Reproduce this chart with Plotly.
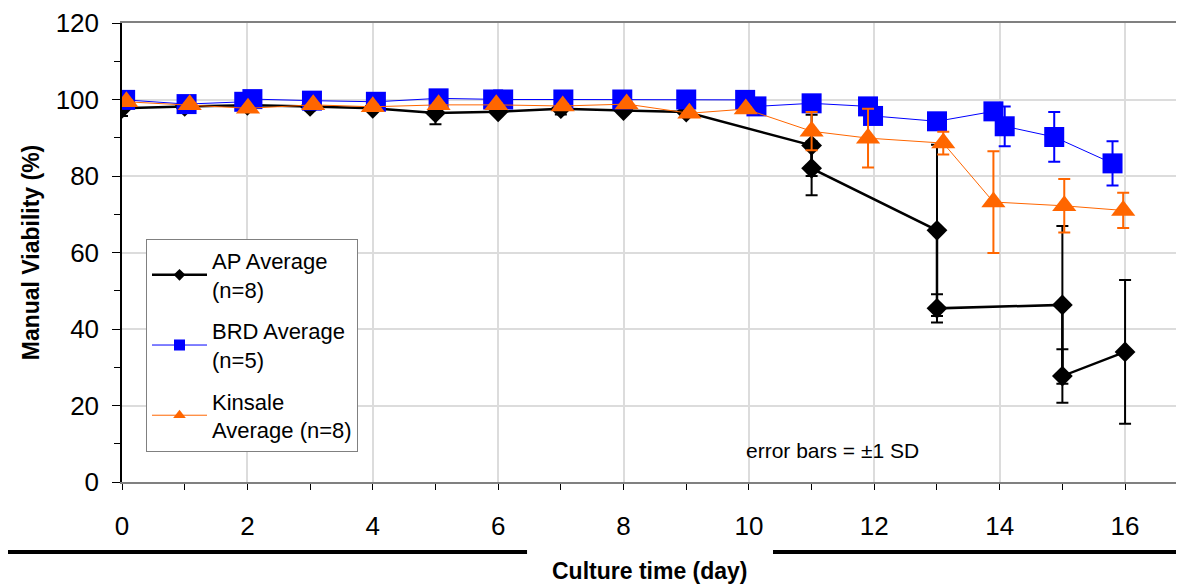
import plotly.graph_objects as go

# ---- data ----
ap_x = [0, 1, 2, 3, 4, 5, 6, 7, 8, 9, 11, 11, 13, 13, 15, 15, 16]
ap_y = [97.7, 98.2, 98.5, 98.2, 97.7, 96.5, 96.8, 97.6, 97.1, 96.7,
        88.0, 82.0, 65.8, 45.4, 46.3, 27.7, 34.0]
ap_sd = [2.0, 0.5, 0.5, 1.0, 0.5, 3.0, 0.5, 1.5, 0.5, 0.5,
         8.0, 7.0, 22.4, 3.7, 20.6, 7.0, 18.8]

brd_x = [0.05, 1.03, 1.95, 2.08, 3.03, 4.05, 5.05, 5.92, 6.08, 7.04, 7.98,
         9.0, 9.94, 10.12, 11.0, 11.9, 11.98, 13.0, 13.9, 14.08, 14.87, 15.8]
brd_y = [99.9, 98.8, 99.4, 100.1, 99.7, 99.4, 100.3, 100.0, 100.0, 100.0, 100.0,
         100.0, 99.9, 98.2, 99.0, 98.2, 95.7, 94.3, 96.9, 93.0, 90.2, 83.3]
brd_sd = [0.5, 0.5, 0.5, 0.5, 0.5, 0.5, 0.5, 0.5, 0.5, 0.5, 0.5,
          0.5, 0.5, 0.5, 0.5, 0.5, 0.5, 0.5, 0.5, 5.2, 6.5, 5.8]

kin_x = [0.07, 1.08, 2.01, 3.05, 4.0, 5.05, 5.97, 7.03, 8.05, 9.05, 9.95,
         11.0, 11.9, 13.1, 13.9, 15.03, 15.97]
kin_y = [99.4, 98.6, 97.7, 98.6, 98.1, 98.6, 98.6, 98.3, 98.8, 96.4, 97.5,
         91.7, 89.9, 88.6, 73.2, 72.2, 71.0]
kin_sd = [0.5, 0.5, 0.5, 0.5, 0.5, 0.5, 0.5, 0.5, 0.5, 0.5, 0.5,
          5.0, 7.7, 3.0, 13.3, 7.0, 4.6]

x_ticks = [0, 2, 4, 6, 8, 10, 12, 14, 16]
y_ticks = [0, 20, 40, 60, 80, 100, 120]

names = ["AP Average<br>(n=8)", "BRD Average<br>(n=5)", "Kinsale<br>Average (n=8)"]

FONT = "Liberation Sans, Arial, sans-serif"
BLACK = "#000000"
BLUE = "#0000FF"
ORANGE = "#FF6600"

fig = go.Figure()

# main traces
fig.add_trace(go.Scatter(
    x=ap_x, y=ap_y, mode="lines+markers", showlegend=False,
    line=dict(color=BLACK, width=2.5),
    marker=dict(symbol="diamond", size=16, color=BLACK),
    error_y=dict(type="data", array=ap_sd, visible=True, color=BLACK,
                 thickness=2, width=6)))
fig.add_trace(go.Scatter(
    x=brd_x, y=brd_y, mode="lines+markers", showlegend=False,
    line=dict(color=BLUE, width=1),
    marker=dict(symbol="square", size=20, color=BLUE),
    error_y=dict(type="data", array=brd_sd, visible=True, color=BLUE,
                 thickness=2, width=6)))
fig.add_trace(go.Scatter(
    x=kin_x, y=kin_y, mode="lines+markers", showlegend=False,
    line=dict(color=ORANGE, width=1),
    marker=dict(symbol="triangle-up", size=21, color=ORANGE),
    error_y=dict(type="data", array=kin_sd, visible=True, color=ORANGE,
                 thickness=2, width=6)))

# legend entries (small symbols as in the reference)
for nm, col, sym, sz, lw, grp in [
        (names[0], BLACK, "diamond", 9, 2.5, "a"),
        (names[1], BLUE, "square", 11, 1, "b"),
        (names[2], ORANGE, "triangle-up", 11, 1, "c")]:
    fig.add_trace(go.Scatter(
        x=[None], y=[None], mode="lines+markers", name=nm, legendgroup=grp,
        line=dict(color=col, width=lw),
        marker=dict(symbol=sym, size=sz, color=col)))

# bottom decorative rules and x title
fig.add_shape(type="line", xref="paper", yref="paper",
              x0=-0.115, x1=0.3814, y0=-0.1524, y1=-0.1524,
              line=dict(color=BLACK, width=4))
fig.add_shape(type="line", xref="paper", yref="paper",
              x0=0.613, x1=1.0, y0=-0.1524, y1=-0.1524,
              line=dict(color=BLACK, width=4))
fig.add_annotation(text="<b>Culture time (day)</b>", xref="paper", yref="paper",
                   x=0.497, y=-0.193, xanchor="center", yanchor="middle",
                   showarrow=False,
                   font=dict(family=FONT, size=23, color=BLACK))
fig.add_annotation(text="error bars = ±1 SD", xref="x", yref="y",
                   x=11.33, y=8.3, showarrow=False,
                   font=dict(family=FONT, size=21, color=BLACK))

fig.update_layout(
    width=1176, height=578,
    margin=dict(l=114, r=0, t=8, b=104),
    paper_bgcolor="white", plot_bgcolor="white",
    font=dict(family=FONT, color=BLACK),
    legend=dict(x=0.0226, y=0.53, xanchor="left", yanchor="top",
                bgcolor="white", bordercolor="#808080", borderwidth=1,
                font=dict(family=FONT, size=22, color=BLACK),
                itemwidth=55, tracegroupgap=10),
    xaxis=dict(range=[0, 16.94], tickvals=x_ticks, ticks="outside",
               ticklen=6, tickcolor=BLACK, tickwidth=1,
               showgrid=True, gridcolor="#DCDCDC", gridwidth=1.5,
               showline=True, linecolor="#808080", linewidth=2, mirror=True,
               zeroline=False,
               minor=dict(dtick=1, ticks="outside", ticklen=6,
                          tickcolor=BLACK, showgrid=False),
               tickfont=dict(family=FONT, size=26, color=BLACK),
               ticklabelstandoff=14, ticklabeloverflow="allow"),
    yaxis=dict(range=[0, 120], tickvals=y_ticks, ticks="outside",
               ticklen=8, tickcolor=BLACK, tickwidth=1,
               showgrid=True, gridcolor="#DCDCDC", gridwidth=1.5,
               showline=True, linecolor=BLACK, linewidth=1.5,
               zeroline=False,
               minor=dict(dtick=10, ticks="outside", ticklen=6,
                          tickcolor=BLACK, showgrid=False),
               tickfont=dict(family=FONT, size=26, color=BLACK),
               ticklabelstandoff=8, ticklabeloverflow="allow",
               title=dict(text="<b>Manual Viability (%)</b>",
                          font=dict(family=FONT, size=23, color=BLACK),
                          standoff=10)),
)

fig.write_html("out.html")
